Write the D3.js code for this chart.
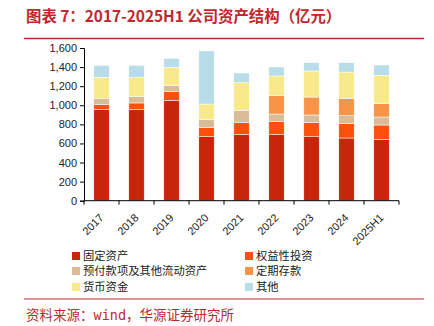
<!DOCTYPE html>
<html>
<head>
<meta charset="utf-8">
<script src="https://cdn.jsdelivr.net/npm/d3@7/dist/d3.min.js"></script>
<style>
  body { margin: 0; background: #fff; }
  svg { display: block; }
</style>
</head>
<body>
<div id="chart"></div>
<script>
// categories and series (亿元)
let years = ["2017", "2018", "2019", "2020", "2021", "2022", "2023", "2024", "2025H1"];
let seriesNames = ["固定资产", "权益性投资", "预付款项及其他流动资产", "定期存款", "货币资金", "其他"];
let fixedAssets = [954, 954, 1052, 671, 692, 692, 671, 657, 643];
let equityInv   = [52, 70, 90, 98, 129, 136, 146, 153, 150];
let prepaid     = [66, 66, 67, 83, 126, 80, 81, 81, 84];
let deposits    = [0, 0, 0, 0, 0, 196, 188, 178, 140];
let cash        = [221, 199, 188, 161, 290, 203, 273, 279, 297];
let others      = [125, 129, 95, 556, 101, 94, 87, 98, 108];
let yTicks = [0, 200, 400, 600, 800, 1000, 1200, 1400, 1600];

let colors = ["#c8260a", "#fc500c", "#d9bb98", "#f79447", "#f8e98a", "#b8dde8"];
let seriesData = [fixedAssets, equityInv, prepaid, deposits, cash, others];

let width = 434, height = 326;
let margin = {top: 48, right: 35, bottom: 125, left: 84};

let svg = d3.select("#chart").append("svg")
    .attr("width", width)
    .attr("height", height);

//Title
svg.append("text")
    .attr("x", 26)
    .attr("y", 22)
    .attr("fill", "#c0282d")
    .attr("font-family", "Noto Sans CJK SC")
    .attr("font-weight", "bold")
    .attr("font-size", 15.4)
    .text("图表 7：2017-2025H1 公司资产结构（亿元）");

svg.append("line")
    .attr("x1", 24).attr("x2", 424)
    .attr("y1", 38.5).attr("y2", 38.5)
    .attr("stroke", "#c0282d")
    .attr("stroke-width", 1.5);

let plotW = width - margin.left - margin.right;
let plotH = 200.7 - margin.top;

let x = d3.scaleBand()
    .domain(years)
    .range([margin.left, margin.left + plotW])
    .paddingInner(0.56)
    .paddingOuter(0.28);

let y = d3.scaleLinear()
    .domain([0, 1600])
    .range([margin.top + plotH, margin.top]);

// stacked data
let rows = years.map(function(yr, i) {
    let r = {year: yr};
    seriesNames.forEach(function(n, k) { r[n] = seriesData[k][i]; });
    return r;
});
let stacked = d3.stack().keys(seriesNames)(rows);

svg.append("g")
    .selectAll("g")
    .data(stacked)
    .enter()
    .append("g")
    .attr("fill", function(d, i) { return colors[i]; })
    .selectAll("rect")
    .data(function(d) { return d; })
    .enter()
    .append("rect")
    .attr("x", function(d) { return x(d.data.year); })
    .attr("width", x.bandwidth())
    .attr("y", function(d) { return y(d[1]); })
    .attr("height", function(d) { return Math.max(0, y(d[0]) - y(d[1])); })
    .attr("stroke", "#fff")
    .attr("stroke-width", 0.5);

// y axis
let yAxis = svg.append("g")
    .attr("transform", "translate(" + margin.left + ",0)")
    .call(d3.axisLeft(y).tickValues(yTicks).tickSize(4).tickFormat(d3.format(",")));
yAxis.selectAll("text")
    .attr("font-family", "Liberation Sans, Arial")
    .attr("font-size", 11)
    .attr("fill", "#222");

// x axis with ticks at band edges
let step = x.step();
let edges = d3.range(years.length + 1).map(function(i) { return margin.left + i * step; });
let xg = svg.append("g");
xg.append("line")
    .attr("x1", margin.left).attr("x2", margin.left + plotW)
    .attr("y1", y(0)).attr("y2", y(0))
    .attr("stroke", "#000").attr("stroke-width", 1);
xg.selectAll(".xtick")
    .data(edges)
    .enter()
    .append("line")
    .attr("x1", function(d) { return d; })
    .attr("x2", function(d) { return d; })
    .attr("y1", y(0))
    .attr("y2", y(0) + 4)
    .attr("stroke", "#000");
xg.selectAll(".xlabel")
    .data(years)
    .enter()
    .append("text")
    .attr("transform", function(d) {
        return "translate(" + (x(d) + x.bandwidth() / 2 + 0) + "," + (y(0) + 15) + ") rotate(-45)";
    })
    .attr("text-anchor", "end")
    .attr("dy", "0.35em")
    .attr("font-family", "Liberation Sans, Arial")
    .attr("font-size", 11)
    .attr("fill", "#222")
    .text(function(d) { return d; });

// legend
let legendPos = [
    [72, 256], [245, 256],
    [72, 271], [245, 271],
    [72, 287], [245, 287]
];
let legend = svg.append("g")
    .selectAll("g")
    .data(seriesNames)
    .enter()
    .append("g")
    .attr("transform", function(d, i) { return "translate(" + legendPos[i][0] + "," + legendPos[i][1] + ")"; });
legend.append("rect")
    .attr("x", 0).attr("y", -4)
    .attr("width", 8).attr("height", 8)
    .attr("fill", function(d, i) { return colors[i]; });
legend.append("text")
    .attr("x", 11)
    .attr("dy", "0.36em")
    .attr("font-family", "Noto Sans CJK SC")
    .attr("font-size", 11.3)
    .attr("fill", "#222")
    .text(function(d) { return d; });

// bottom line and source
svg.append("line")
    .attr("x1", 24).attr("x2", 424)
    .attr("y1", 299).attr("y2", 299)
    .attr("stroke", "#c0282d")
    .attr("stroke-width", 1);

svg.append("text")
    .attr("x", 26)
    .attr("y", 320)
    .attr("fill", "#c0282d")
    .attr("font-family", "DejaVu Sans Mono, Noto Sans CJK SC")
    .attr("font-size", 13.5)
    .text("资料来源：wind，华源证券研究所");
</script>
</body>
</html>
